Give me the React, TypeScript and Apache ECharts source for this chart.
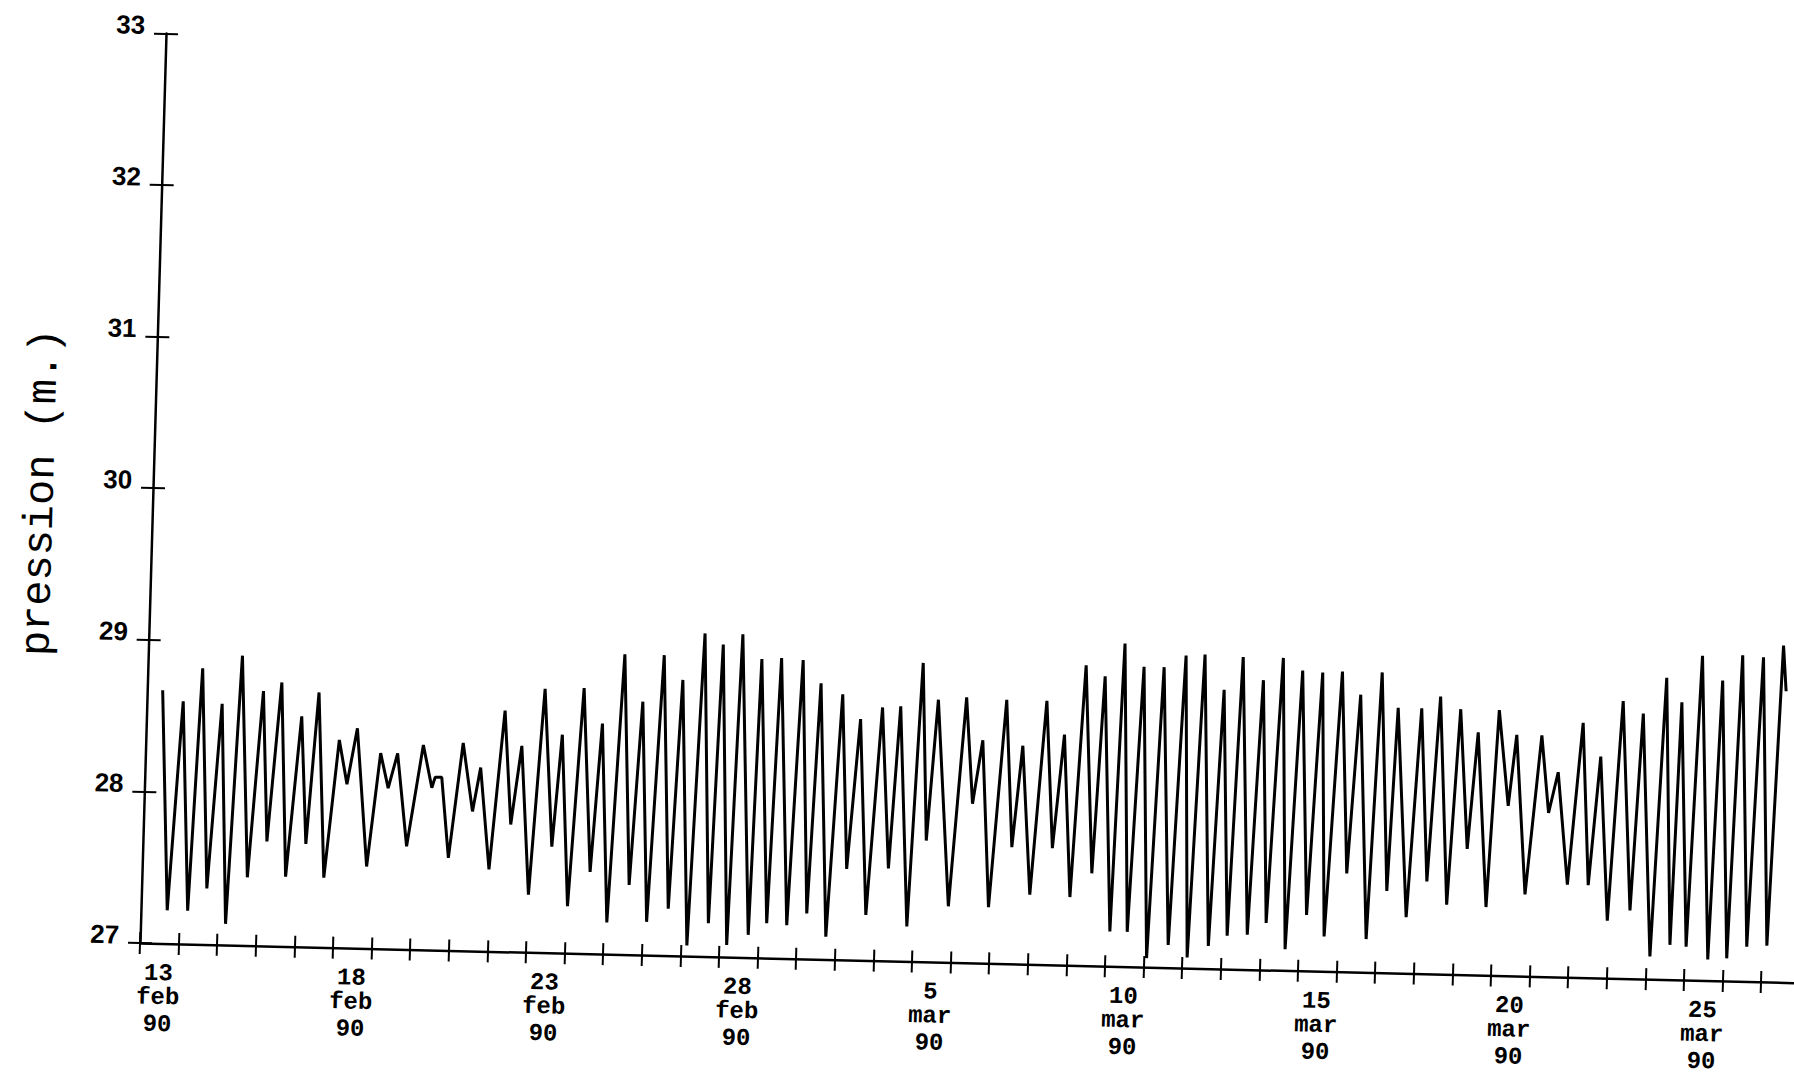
import React, { useEffect, useRef } from "react";
import * as echarts from "echarts";

// time in days since 13 feb 1990 00:00
const times = [
  0.4, 0.68, 0.94, 1.21, 1.42, 1.69, 1.95, 2.2, 2.44, 2.73, 3.01, 3.21, 3.48, 3.72, 4.02, 4.22, 4.45, 4.71,
  5.01, 5.24, 5.47, 5.81, 6.09, 6.31, 6.53, 6.83,
  7.19, 7.44, 7.52, 7.69, 7.92, 8.22, 8.51, 8.69, 8.98, 9.28, 9.51, 9.74, 10.02, 10.3, 10.59, 10.78, 11.04,
  11.31, 11.6, 11.81, 12.07, 12.34, 12.62, 12.84, 13.1, 13.36, 13.65, 13.86, 14.16,
  14.4, 14.7, 14.88, 15.19, 15.38, 15.74, 15.89, 16.21, 16.4, 16.73, 16.96, 17.24, 17.44, 17.75, 18.01,
  18.24, 18.49, 18.77, 19.05, 19.32, 19.52, 19.84, 20.07, 20.28, 20.49, 20.9, 21.22, 21.45, 21.67, 21.94,
  22.26, 22.5, 22.71, 23.0, 23.3, 23.55, 23.78, 24.04, 24.29, 24.59, 24.79, 25.1, 25.28, 25.55, 25.79,
  26.07, 26.31, 26.62, 26.87, 27.12, 27.36, 27.66, 27.88, 28.14, 28.35, 28.66,
  28.89, 29.14, 29.39, 29.65, 29.9, 30.18, 30.42, 30.65, 30.93, 31.19, 31.42, 31.74, 31.96, 32.24, 32.4,
  32.76, 33.01, 33.27, 33.49, 33.8, 34.02, 34.29, 34.49, 34.82, 35.02, 35.32, 35.49, 35.82,
  36.14, 36.37, 36.59, 36.91, 37.2, 37.45, 37.68, 37.97, 38.22, 38.55, 38.75, 39.1, 39.33, 39.61, 39.74,
  40.03, 40.24, 40.6, 40.78, 41.09, 41.28, 41.6, 41.82, 42.12, 42.33, 42.43,
];

// pression (m.)
const pressure = [
  28.67, 27.22, 28.6, 27.22, 28.82, 27.37, 28.59, 27.14, 28.91, 27.45, 28.68, 27.69, 28.74, 27.46, 28.52, 27.68, 28.68, 27.46,
  28.37, 28.08, 28.45, 27.54, 28.29, 28.06, 28.29, 27.68,
  28.35, 28.07, 28.14, 28.14, 27.61, 28.37, 27.92, 28.21, 27.54, 28.59, 27.84, 28.36, 27.38, 28.74, 27.7, 28.44, 27.31,
  28.75, 27.54, 28.52, 27.21, 28.98, 27.46, 28.67, 27.22, 28.98, 27.31, 28.82, 27.07,
  29.13, 27.22, 29.06, 27.08, 29.13, 27.15, 28.97, 27.23, 28.98, 27.22, 28.97, 27.3, 28.82, 27.15, 28.75,
  27.6, 28.59, 27.3, 28.67, 27.61, 28.68, 27.23, 28.97, 27.8, 28.73, 27.37, 28.75, 28.05, 28.47, 27.37,
  28.74, 27.77, 28.44, 27.46, 28.74, 27.77, 28.52, 27.45, 28.98, 27.61, 28.91, 27.23, 29.13, 27.23, 28.98,
  27.06, 28.98, 27.15, 29.06, 27.07, 29.07, 27.15, 28.84, 27.22, 29.06, 27.23,
  28.91, 27.31, 29.06, 27.14, 28.98, 27.37, 28.97, 27.23, 28.98, 27.65, 28.83, 27.22, 28.98, 27.54, 28.75,
  27.37, 28.75, 27.61, 28.83, 27.46, 28.75, 27.83, 28.6, 27.45, 28.75, 28.12, 28.59, 27.54,
  28.59, 28.08, 28.35, 27.61, 28.68, 27.61, 28.46, 27.38, 28.83, 27.45, 28.75, 27.15, 28.99, 27.23, 28.83,
  27.22, 29.14, 27.14, 28.98, 27.15, 29.15, 27.23, 29.14, 27.24, 29.22, 28.92,
];

const dayTicks = Array.from({ length: 43 }, (_, i) => i);
const labelPositions = [0.5, 5.5, 10.5, 15.5, 20.5, 25.5, 30.5, 35.5, 40.5];
const labelDays = ["13", "18", "23", "28", "5", "10", "15", "20", "25"];
const labelMonths = ["feb", "feb", "feb", "feb", "mar", "mar", "mar", "mar", "mar"];
const labelYear = "90";
const yTitle = "pression (m.)";

export default function App() {
  const ref = useRef<HTMLDivElement>(null);

  useEffect(() => {
    if (!ref.current) return;
    const chart = echarts.init(ref.current, undefined, { renderer: "svg" });
    const data = times.map((t, i) => [t, pressure[i]]);
    const labelFont = { fontFamily: "Liberation Mono", fontWeight: "bold", fontSize: 24, color: "#000" };
    chart.setOption({
      animation: false,
      backgroundColor: "#fff",
      grid: { left: 140, right: 0, top: 33.4, bottom: 131, containLabel: false, outerBoundsMode: "none" },
      xAxis: [
        {
          type: "value",
          min: 0,
          max: 42.85,
          position: "bottom",
          splitLine: { show: false },
          axisLine: { show: true, onZero: false, lineStyle: { color: "#000", width: 2.5 } },
          axisTick: { show: true, length: 11, customValues: dayTicks, lineStyle: { color: "#000", width: 2 } },
          axisLabel: {
            show: true,
            customValues: labelPositions,
            margin: 18,
            formatter: (v: number) => {
              const i = labelPositions.findIndex((p) => Math.abs(p - v) < 0.01);
              if (i < 0) return "";
              return `{d|${labelDays[i]}}\n{d|${labelMonths[i]}}\n{y|${labelYear}}`;
            },
            rich: {
              d: { ...labelFont, lineHeight: 24 },
              y: { ...labelFont, lineHeight: 30 },
            },
          },
        },
        {
          type: "value",
          min: 0,
          max: 42.85,
          position: "bottom",
          splitLine: { show: false },
          axisLine: { show: false, onZero: false },
          axisTick: { show: true, inside: true, length: 11, customValues: dayTicks, lineStyle: { color: "#000", width: 2 } },
          axisLabel: { show: false },
        },
      ],
      yAxis: [
        {
          type: "value",
          min: 27,
          max: 33,
          interval: 1,
          position: "left",
          splitLine: { show: false },
          axisLine: { show: true, onZero: false, lineStyle: { color: "#000", width: 2.5 } },
          axisTick: { show: true, length: 12, lineStyle: { color: "#000", width: 2 } },
          axisLabel: {
            margin: 21,
            fontFamily: "Liberation Sans",
            fontWeight: "bold",
            fontSize: 26,
            color: "#000",
            verticalAlign: "bottom",
            lineHeight: 16,
          },
        },
        {
          type: "value",
          min: 27,
          max: 33,
          interval: 1,
          position: "left",
          splitLine: { show: false },
          axisLine: { show: false, onZero: false },
          axisTick: { show: true, inside: true, length: 12, lineStyle: { color: "#000", width: 2 } },
          axisLabel: { show: false },
        },
      ],
      graphic: [
        {
          type: "text",
          x: 29,
          y: 495,
          rotation: Math.PI / 2,
          style: {
            text: yTitle,
            fontFamily: "Liberation Mono",
            fontSize: 42,
            fontWeight: "normal",
            fill: "#000",
            align: "center",
            verticalAlign: "middle",
          },
        },
      ],
      series: [
        {
          type: "line",
          xAxisIndex: 0,
          yAxisIndex: 0,
          data,
          showSymbol: false,
          symbol: "none",
          lineStyle: { color: "#000", width: 3 },
        },
      ],
    });
    return () => chart.dispose();
  }, []);

  return (
    <div
      style={{
        position: "fixed",
        left: 0,
        top: 0,
        width: 1794,
        height: 1074,
        overflow: "hidden",
        background: "#fff",
      }}
    >
      <div
        ref={ref}
        style={{
          position: "absolute",
          left: 0,
          top: 0,
          width: 1794,
          height: 1074,
          transformOrigin: "140px 943px",
          transform: "matrix(1, 0.024, -0.0286, 1, 0, 0)",
        }}
      />
    </div>
  );
}
